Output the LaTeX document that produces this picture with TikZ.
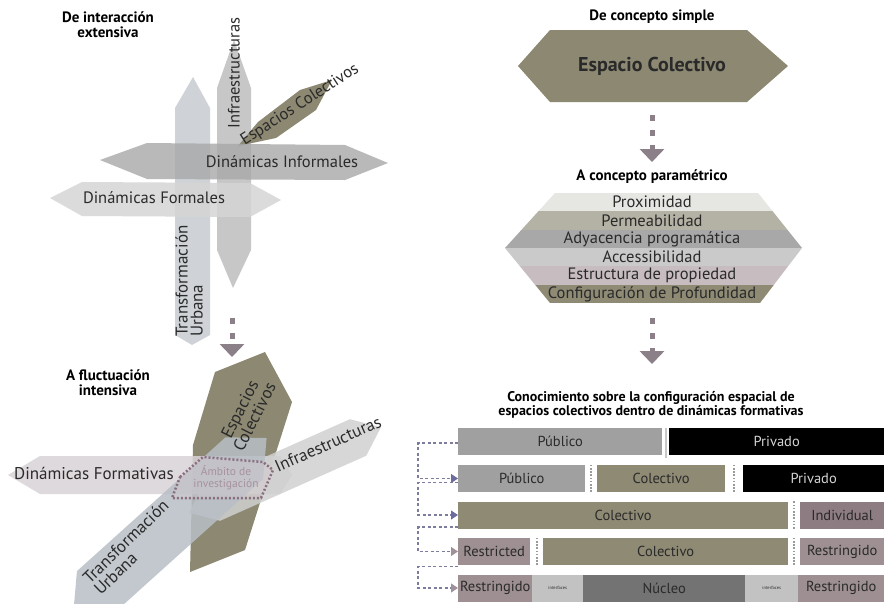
\documentclass[tikz,border=0pt]{standalone}
\usepackage{fontspec}
\setmainfont{PT Sans}
\usetikzlibrary{positioning,arrows.meta,calc}
\definecolor{colOlive}{HTML}{8C8872}
\definecolor{cellOlive}{HTML}{8F8A74}
\definecolor{cellGrey}{HTML}{A0A0A0}
\definecolor{cellMauve}{HTML}{9D8F92}
\definecolor{cellIndiv}{HTML}{8E7C83}
\definecolor{cellInter}{HTML}{C2C2C2}
\definecolor{cellCore}{HTML}{737373}
\definecolor{arrowGrey}{HTML}{8C8088}
\definecolor{labText}{HTML}{2A2A2A}
\definecolor{sepGrey}{HTML}{9A9A9A}
\definecolor{sepLight}{HTML}{C8C8C8}
\definecolor{privText}{HTML}{D4D4D4}
\definecolor{connGrey}{HTML}{7C7C9C}
\definecolor{tipBlue}{HTML}{6B6B9E}
\definecolor{tipMauve}{HTML}{A0909A}
\definecolor{ambito}{HTML}{8A6F80}
\definecolor{ambitoText}{HTML}{A8919F}
\tikzstyle{dotarrow} = [line width=5pt,draw=arrowGrey,dash pattern=on 6pt off 9pt,-{Triangle[width=24pt,length=13pt]}]
\tikzstyle{title} = [font=\bfseries\fontsize{15}{15}\selectfont,align=center,inner sep=0pt]
\tikzstyle{lab} = [font=\fontsize{16.5}{16}\selectfont,text=labText,inner sep=0pt]
\tikzstyle{stripe} = [font=\fontsize{16.5}{17}\selectfont,text=labText,inner sep=0pt]
\tikzstyle{cell} = [anchor=west,minimum height=27pt,inner sep=0pt,font=\fontsize{14.5}{15}\selectfont]
\tikzstyle{sep} = [draw=sepGrey,line width=1.6pt,dash pattern=on 1.6pt off 1.6pt]
\tikzstyle{conn} = [draw=connGrey,line width=1.1pt,dash pattern=on 3pt off 2.5pt]

\begin{document}
\begin{tikzpicture}[x=1pt,y=-1pt]
\useasboundingbox[fill=white] (0,0) rectangle (884,603);

% de interaccion extensiva
\node[title] (tExt) at (108,25) {De interacción\\extensiva};
\fill[fill={rgb,255:red,199;green,204;blue,209},fill opacity=0.85] (193,77) -- (210,108) -- (210,335) -- (192,345) -- (175,335) -- (175,108) -- cycle;
\fill[fill={rgb,255:red,190;green,190;blue,190},fill opacity=0.85] (234,40) -- (251,88) -- (251,250) -- (233,288) -- (217,250) -- (217,88) -- cycle;
\fill[colOlive] (238,146) -- (258,122) -- (300,90) -- (332,80) -- (316,110) -- (276,138) -- cycle;
\fill[fill={rgb,255:red,168;green,168;blue,168},fill opacity=0.8] (100,160) -- (147,143) -- (345,145) -- (388,163) -- (345,180) -- (147,179) -- cycle;
\fill[fill={rgb,255:red,213;green,213;blue,213},fill opacity=0.85] (50,198) -- (82,182) -- (250,183) -- (281,200) -- (250,217) -- (82,216) -- cycle;

\node[lab,rotate=90] (lInf) at (234,73) {Infraestructuras};
\node[lab,rotate=33] (lEsp) at (300,105) {Espacios Colectivos};
\node[lab] (lDinI) at (282,162) {Dinámicas Informales};
\node[lab] (lDinF) at (154,198) {Dinámicas Formales};
\node[lab,rotate=90,align=left,anchor=west,font=\fontsize{17}{15}\selectfont] (lTrans) at (189,337) {Transformación\\Urbana};

\coordinate (extEnd) at (232,318);
\coordinate (intStart) at (232,357);
\draw[dotarrow] (extEnd) -- (intStart);

% a fluctuacion intensiva
\node[title] (tInt) at (108,383) {A fluctuación\\intensiva};
\fill[colOlive] (265,352) -- (292,402) -- (245,550) -- (190,572) -- (193,445) -- (215,372) -- cycle;
\begin{scope}[shift={(150,475)}]
\fill[fill={rgb,255:red,217;green,211;blue,214},fill opacity=0.85] (-142,0) -- (-110,-19) -- (130,-19) -- (142,0) -- (130,19) -- (-110,19) -- cycle;
\end{scope}
\begin{scope}[shift={(285,470)},rotate=24]
\fill[fill={rgb,255:red,208;green,208;blue,208},fill opacity=0.85] (-105,0) -- (-80,-20) -- (80,-20) -- (105,0) -- (80,20) -- (-80,20) -- cycle;
\end{scope}
\begin{scope}[shift={(170,525)},rotate=42]
\fill[fill={rgb,255:red,184;green,191;blue,198},fill opacity=0.85] (-130,0) -- (-100,-28) -- (100,-28) -- (130,0) -- (100,28) -- (-100,28) -- cycle;
\end{scope}
\filldraw[ambito,fill opacity=0.3,line width=2.5pt,dash pattern=on 2pt off 2pt,fill={rgb,255:red,216;green,201;blue,208}] (180,477) -- (203,457) -- (263,462) -- (273,470) -- (261,498) -- (172,498) -- cycle;
\node[font=\fontsize{11.5}{12}\selectfont,text=ambitoText,align=center,inner sep=0pt] (lAmb) at (226,478) {Ámbito de\\investigación};

\node[lab,font=\fontsize{17}{16}\selectfont] (lForm) at (94,473) {Dinámicas Formativas};
\node[lab,rotate=63,align=center,font=\fontsize{17}{15}\selectfont] (lEsp2) at (247,413) {Espacios\\Colectivos};
\node[lab,rotate=24,font=\fontsize{17}{16}\selectfont] (lInf2) at (328,444) {Infraestructuras};
\node[lab,rotate=44,align=left,anchor=west,font=\fontsize{17}{16}\selectfont] (lTrans2) at (91,586) {Transformación\\Urbana};

% de concepto simple
\node[title] (tSimple) at (652,17) {De concepto simple};
\fill[colOlive] (518,66) -- (550,30) -- (747,30) -- (788,66) -- (747,102) -- (550,102) -- cycle;
\node[font=\bfseries\fontsize{20}{20}\selectfont,text=labText] (ec) at (652,66) {Espacio Colectivo};
\coordinate (ecEnd) at (652,115);
\coordinate (paramStart) at (652,162);
\draw[dotarrow] (ecEnd) -- (paramStart);

% a concepto parametrico
\node[title] (tParam) at (652,177) {A concepto paramétrico};
\begin{scope}
\clip (505,248) -- (555,193) -- (758,193) -- (802,248) -- (760,303) -- (550,303) -- cycle;
\fill[fill={rgb,255:red,230;green,230;blue,227}] (500,193) rectangle (810,211.3);
\fill[fill={rgb,255:red,180;green,178;blue,164}] (500,211.3) rectangle (810,229.7);
\fill[fill={rgb,255:red,168;green,168;blue,168}] (500,229.7) rectangle (810,248);
\fill[fill={rgb,255:red,202;green,202;blue,202}] (500,248) rectangle (810,266.3);
\fill[fill={rgb,255:red,199;green,188;blue,192}] (500,266.3) rectangle (810,284.7);
\fill[fill={rgb,255:red,142;green,138;blue,116}] (500,284.7) rectangle (810,303);
\end{scope}
\node[stripe] (pProx) at (652,202) {Proximidad};
\node[stripe] (pPerm) at (652,220.5) {Permeabilidad};
\node[stripe] (pAdy) at (652,239) {Adyacencia programática};
\node[stripe] (pAcc) at (652,257) {Accessibilidad};
\node[stripe] (pEst) at (652,275.5) {Estructura de propiedad};
\node[stripe] (pConf) at (652,294) {Configuración de Profundidad};
\coordinate (paramEnd) at (652,318);
\coordinate (knowStart) at (652,364);
\draw[dotarrow] (paramEnd) -- (knowStart);

% conocimiento
\node[title,font=\bfseries\fontsize{14}{13.5}\selectfont] (tKnow) at (651,405) {Conocimiento sobre la configuración espacial de\\espacios colectivos dentro de dinámicas formativas};

% fila 1
\node[cell,fill=cellGrey,text=labText,minimum width=204pt] (pub1) at (458,441.5) {Público};
\node[cell,fill=black,text=privText,minimum width=215pt] (priv1) at (669,441.5) {Privado};
% fila 2
\node[cell,fill=cellGrey,text=labText,minimum width=127pt] (pub2) at (458,478.5) {Público};
\node[cell,fill=cellOlive,text=labText,minimum width=128pt] (col2) at (597,478.5) {Colectivo};
\node[cell,fill=black,text=privText,minimum width=141pt] (priv2) at (743,478.5) {Privado};
% fila 3
\node[cell,fill=cellOlive,text=labText,minimum width=330pt] (col3) at (458,515) {Colectivo};
\node[cell,fill=cellIndiv,text=labText,minimum width=84pt] (ind3) at (800,515) {Individual};
% fila 4
\node[cell,fill=cellMauve,text=labText,minimum width=72pt] (res4) at (458,551.5) {Restricted};
\node[cell,fill=cellOlive,text=labText,minimum width=245pt] (col4) at (543,551.5) {Colectivo};
\node[cell,fill=cellMauve,text=labText,minimum width=84pt] (rst4) at (800,551.5) {Restringido};
% fila 5
\node[cell,fill=cellMauve,text=labText,minimum width=74pt] (rst5a) at (458,588) {Restringido};
\node[cell,fill=cellInter,text=labText,minimum width=51pt,font=\fontsize{4.5}{5}\selectfont] (int5a) at (532,588) {interfaces};
\node[cell,fill=cellCore,text=labText,minimum width=162pt] (nuc5) at (583,588) {Núcleo};
\node[cell,fill=cellInter,text=labText,minimum width=53pt,font=\fontsize{4.5}{5}\selectfont] (int5b) at (745,588) {interfaces};
\node[cell,fill=cellMauve,text=labText,minimum width=86pt] (rst5b) at (798,588) {Restringido};

% separadores
\draw[draw=sepLight,line width=2pt] ($(pub1.north east)!0.5!(priv1.north west)$) -- ($(pub1.south east)!0.5!(priv1.south west)$) -- ++(0,3);
\draw[sep] ($(pub2.north east)!0.5!(col2.north west)$) -- ($(pub2.south east)!0.5!(col2.south west)$);
\draw[sep] ($(col2.north east)!0.5!(priv2.north west)$) -- ($(col2.south east)!0.5!(priv2.south west)$);
\draw[sep] ($(col3.north east)!0.5!(ind3.north west)$) -- ($(col3.south east)!0.5!(ind3.south west)$);
\draw[sep] ($(res4.north east)!0.5!(col4.north west)$) -- ($(res4.south east)!0.5!(col4.south west)$);
\draw[sep] ($(col4.north east)!0.5!(rst4.north west)$) -- ($(col4.south east)!0.5!(rst4.south west)$);

% conexiones
\draw[conn,-{Triangle[width=9pt,length=7pt,color=tipBlue]}] ([yshift=-1.5pt]pub1.west) -- ++(-40,0) |- (pub2.west);
\draw[conn,-{Triangle[width=9pt,length=7pt,color=tipBlue]}] ([yshift=-4pt]pub2.west) -- ++(-40,0) |- (col3.west);
\draw[conn,-{Triangle[width=9pt,length=7pt,color=tipMauve]}] ([yshift=-12pt]col3.west) -- ++(-40,0) |- (res4.west);
\draw[conn,-{Triangle[width=9pt,length=7pt,color=tipMauve]}] ([yshift=-15pt]res4.west) -- ++(-40,0) |- (rst5a.west);
\end{tikzpicture}
\end{document}
